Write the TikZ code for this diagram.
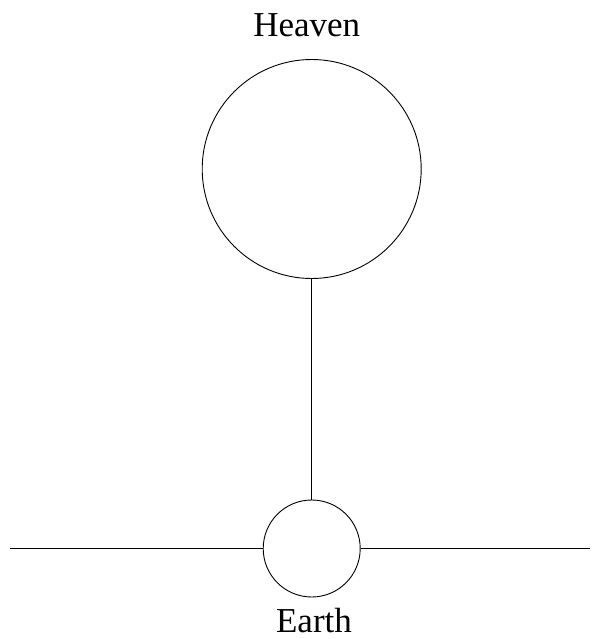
\documentclass[tikz,border=0pt]{standalone}
\usepackage{fontspec}
\setmainfont{Liberation Serif}
\begin{document}
\begin{tikzpicture}[x=1pt,y=-1pt,
  orb/.style={circle,draw,inner sep=0pt,line width=0.9pt},
  lbl/.style={anchor=base,inner sep=0pt,font=\fontsize{35}{40}\selectfont},
  every path/.style={line width=0.9pt}]
\useasboundingbox (0,0) rectangle (598,639);
\node[orb,minimum size=219pt] (heaven) at (311.7,169) {};
\node[orb,minimum size=97pt] (earth) at (311.7,548.5) {};
\coordinate (L) at (10,548.5);
\coordinate (R) at (590,548.5);
\draw (heaven.south) -- (earth.north);
\draw (L) -- (earth.west);
\draw (earth.east) -- (R);
\node[lbl] (ht) at (306.7,36.7) {Heaven};
\node[lbl] (et) at (314,632) {Earth};
\end{tikzpicture}
\end{document}
